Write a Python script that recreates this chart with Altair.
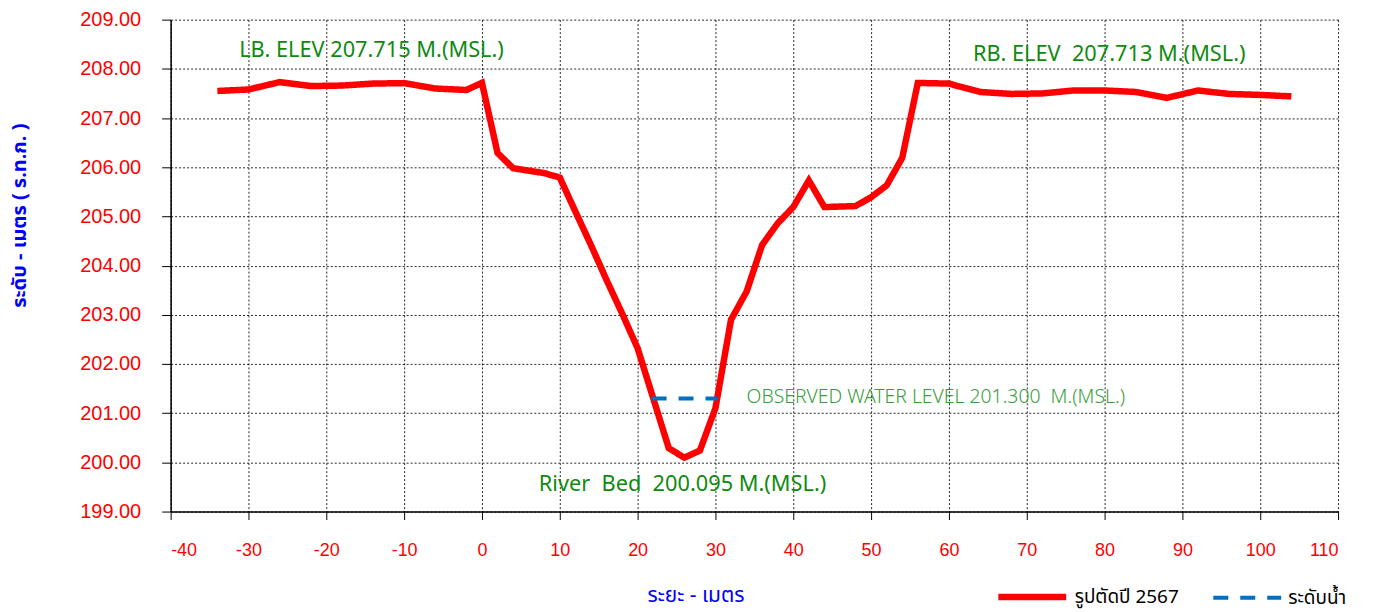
import altair as alt
import pandas as pd

# profile (distance m, elevation m MSL)
dist = [-34, -30, -26, -22, -18, -14, -10, -6, -2, 0, 2, 4, 8, 10, 12, 14, 16, 18, 20,
        24, 26, 28, 30, 32, 34, 36, 38, 40, 42, 44, 48, 50, 52, 54, 56, 60, 64, 68,
        72, 76, 80, 84, 88, 92, 96, 100, 104]
elev = [207.55, 207.58, 207.73, 207.65, 207.66, 207.70, 207.71, 207.60, 207.57, 207.715,
        206.29, 205.98, 205.88, 205.79, 205.10, 204.42, 203.71, 203.03, 202.32,
        200.29, 200.095, 200.24, 201.10, 202.90, 203.47, 204.42, 204.86, 205.19, 205.73,
        205.19, 205.21, 205.39, 205.63, 206.19, 207.713, 207.70, 207.53, 207.49,
        207.50, 207.56, 207.56, 207.53, 207.41, 207.56, 207.49, 207.47, 207.44]

water_dist = [21.8, 30.3]
water_elev = [201.3, 201.3]

series_names = ["รูปตัดปี 2567", "ระดับน้ำ"]
series_colors = ["#ff0000", "#0070c0"]

x_ticks = list(range(-40, 111, 10))
y_ticks = list(range(199, 210))

NB = "\u00a0"
ann_text = ["LB. ELEV 207.715 M.(MSL.)",
            "RB. ELEV " + NB + "207.713 M.(MSL.)",
            "River " + NB + "Bed " + NB + "200.095 M.(MSL.)"]
ann_x = [-31.2, 63.1, 7.3]
ann_y = [208.39, 208.31, 199.57]

obs_text = ["OBSERVED WATER LEVEL 201.300 " + NB + "M.(MSL.)"]
obs_x = [34.0]
obs_y = [201.33]

df = pd.DataFrame({
    "dist": dist + water_dist,
    "elev": elev + water_elev,
    "series": [series_names[0]] * len(dist) + [series_names[1]] * len(water_dist),
    "ord": list(range(len(dist))) + list(range(len(water_dist))),
})
ann_df = pd.DataFrame({"t": ann_text, "x": ann_x, "y": ann_y})
obs_df = pd.DataFrame({"t": obs_text, "x": obs_x, "y": obs_y})

TICK_FONT = "Liberation Sans, Arial, sans-serif"
ANN_FONT = "Noto Sans, DejaVu Sans, sans-serif"
THAI_FONT = "Noto Sans Thai, Noto Sans, DejaVu Sans, sans-serif"

xscale = alt.Scale(domain=[-40, 110], nice=False, zero=False)
yscale = alt.Scale(domain=[199, 209], nice=False, zero=False)

x_enc = alt.X("dist:Q", scale=xscale, axis=alt.Axis(
    values=x_ticks, labelExpr="'' + datum.value", title="ระยะ - เมตร",
    titleX=526, titleY=84, titleAlign="center", titleBaseline="middle",
    titleColor="#0000ff", titleFont=THAI_FONT, titleFontSize=21, titleFontWeight="normal",
    labelColor="#ff0000", labelFont=TICK_FONT, labelFontSize=18, labelPadding=22,
    tickSize=8, tickColor="#000000", domainColor="#000000", domainWidth=1.5,
    grid=True, gridColor="#000000", gridDash=[2, 2], gridWidth=1, gridOpacity=0.85))
y_enc = alt.Y("elev:Q", scale=yscale, axis=alt.Axis(
    values=y_ticks, format=".2f", title="ระดับ - เมตร ( ร.ท.ก. )",
    titleX=-151, titleY=196, titleAlign="center", titleBaseline="middle",
    titleColor="#0000ff", titleFont=THAI_FONT, titleFontSize=20, titleFontWeight="bold",
    labelColor="#ff0000", labelFont=TICK_FONT, labelFontSize=20, labelPadding=21,
    tickSize=9, tickColor="#000000", domainColor="#000000", domainWidth=1.5,
    grid=True, gridColor="#000000", gridDash=[2, 2], gridWidth=1, gridOpacity=0.85))

legend = alt.Legend(title=None, orient="none", legendX=826, legendY=541, padding=0,
                    direction="horizontal", symbolType="stroke", symbolSize=4624,
                    labelFont=THAI_FONT, labelFontSize=19, labelColor="#000000",
                    labelOffset=5, columnPadding=26)

lines = alt.Chart(df).mark_line(clip=True).encode(
    x=x_enc, y=y_enc,
    color=alt.Color("series:N", scale=alt.Scale(domain=series_names, range=series_colors), legend=legend),
    strokeDash=alt.StrokeDash("series:N", scale=alt.Scale(domain=series_names, range=[[1, 0], [15, 12]]), legend=legend),
    strokeWidth=alt.StrokeWidth("series:N", scale=alt.Scale(domain=series_names, range=[6.5, 4]), legend=legend),
    order="ord:Q",
)

ann = alt.Chart(ann_df).mark_text(align="left", baseline="middle", font=ANN_FONT,
                                  fontSize=21.8, color="#0f8a0f").encode(
    x=alt.X("x:Q", scale=xscale), y=alt.Y("y:Q", scale=yscale), text="t:N")

obs = alt.Chart(obs_df).mark_text(align="left", baseline="middle", font=ANN_FONT,
                                  fontSize=19.4, color="#3a9c3a", fontWeight=300).encode(
    x=alt.X("x:Q", scale=xscale), y=alt.Y("y:Q", scale=yscale), text="t:N")

chart = alt.layer(lines, ann, obs).properties(
    width=1170, height=493,
    autosize=alt.AutoSizeParams(type="none"),
    padding={"left": 163, "top": 11, "right": 30, "bottom": 100},
    background="#ffffff",
).configure_view(stroke=None)

chart.save("out.html", embed_options={"renderer": "svg", "actions": False})
